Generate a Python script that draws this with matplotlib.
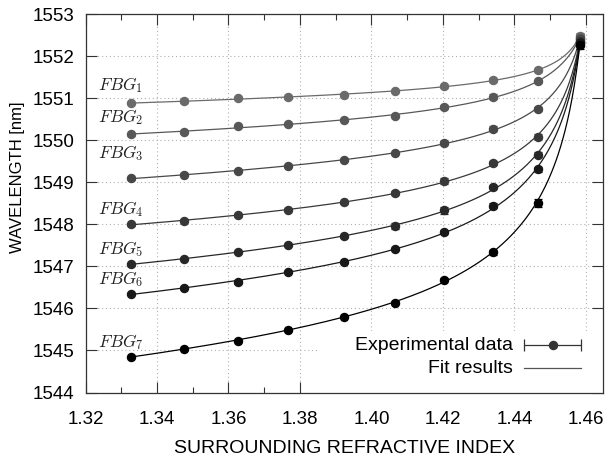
"""Bragg wavelength of seven FBGs versus surrounding refractive index."""

import numpy as np
import matplotlib
matplotlib.use("Agg")
import matplotlib.pyplot as plt

plt.rcParams["font.family"] = ["Liberation Sans", "DejaVu Sans"]
plt.rcParams["mathtext.fontset"] = "cm"

# measured surrounding refractive index
sri = [1.3326, 1.3476, 1.3626, 1.3767, 1.3924, 1.4066, 1.4204, 1.4341, 1.4465, 1.4583]

# Bragg wavelengths [nm]
fbg1 = [1550.88, 1550.92, 1551.00, 1551.02, 1551.08, 1551.17, 1551.28, 1551.43, 1551.66, 1552.48]
fbg2 = [1550.14, 1550.19, 1550.34, 1550.38, 1550.48, 1550.58, 1550.79, 1551.03, 1551.40, 1552.44]
fbg3 = [1549.09, 1549.18, 1549.27, 1549.39, 1549.53, 1549.70, 1549.93, 1550.27, 1550.75, 1552.41]
fbg4 = [1548.00, 1548.09, 1548.21, 1548.35, 1548.52, 1548.74, 1549.03, 1549.46, 1550.08, 1552.37]
fbg5 = [1547.05, 1547.18, 1547.34, 1547.51, 1547.71, 1547.96, 1548.33, 1548.88, 1549.65, 1552.34]
fbg6 = [1546.34, 1546.49, 1546.63, 1546.86, 1547.10, 1547.41, 1547.82, 1548.44, 1549.31, 1552.30]
fbg7 = [1544.85, 1545.04, 1545.23, 1545.49, 1545.80, 1546.14, 1546.68, 1547.34, 1548.51, 1552.26]

# measurement uncertainty [nm]
err1 = [0.03, 0.03, 0.03, 0.03, 0.03, 0.03, 0.03, 0.04, 0.04, 0.08]
err2 = [0.03, 0.03, 0.03, 0.03, 0.03, 0.03, 0.04, 0.06, 0.04, 0.08]
err3 = [0.03, 0.03, 0.03, 0.03, 0.03, 0.03, 0.04, 0.06, 0.05, 0.08]
err4 = [0.03, 0.03, 0.03, 0.03, 0.03, 0.04, 0.08, 0.05, 0.06, 0.08]
err5 = [0.03, 0.03, 0.03, 0.03, 0.03, 0.08, 0.08, 0.05, 0.06, 0.08]
err6 = [0.03, 0.03, 0.05, 0.03, 0.03, 0.03, 0.04, 0.06, 0.06, 0.08]
err7 = [0.03, 0.03, 0.03, 0.03, 0.03, 0.03, 0.04, 0.06, 0.10, 0.08]

labels = ["$FBG_1$", "$FBG_2$", "$FBG_3$", "$FBG_4$", "$FBG_5$", "$FBG_6$", "$FBG_7$"]
label_y = [1551.31, 1550.56, 1549.69, 1548.37, 1547.41, 1546.70, 1545.21]

series = [fbg1, fbg2, fbg3, fbg4, fbg5, fbg6, fbg7]
errors = [err1, err2, err3, err4, err5, err6, err7]
colors = ["#6a6a6a", "#585858", "#484848", "#383838", "#282828", "#181818", "#000000"]


def fit_curve(x, y, e):
    """Least-squares fit of y = a + c*n + b / sqrt(nc^2 - n^2)."""
    w = 1.0 / e
    best = None
    for nc in np.linspace(x[-1] + 2e-4, 1.62, 2500):
        basis = np.column_stack([np.ones_like(x), x, 1.0 / np.sqrt(nc**2 - x**2)])
        coef = np.linalg.lstsq(basis * w[:, None], y * w, rcond=None)[0]
        r = np.sum(((basis @ coef - y) * w) ** 2)
        if best is None or r < best[0]:
            best = (r, nc, coef)
    _, nc, coef = best
    xx = np.linspace(x[0], x[-1], 400)
    yy = coef[0] + coef[1] * xx + coef[2] / np.sqrt(nc**2 - xx**2)
    return xx, yy


fig = plt.figure(figsize=(6.06, 4.66), dpi=100)
ax = fig.add_axes([0.1411, 0.1577, 0.854, 0.8122])

x = np.array(sri)
for y, e, c, lab, ly in zip(series, errors, colors, labels, label_y):
    y = np.array(y)
    e = np.array(e)
    xx, yy = fit_curve(x, y, e)
    ax.plot(xx, yy, color=c, lw=0.9, zorder=3)
    ax.errorbar(x, y, yerr=e, fmt="o", ms=5.8, color=c, ecolor=c,
                elinewidth=0.9, capsize=2.6, capthick=0.9, zorder=4)
    ax.text(1.3236, ly, lab, fontsize=12.5, color="#222222", ha="left", va="center", zorder=5)

ax.set_xlim(1.32, 1.4648)
ax.set_ylim(1544, 1553)
ax.set_xticks(np.arange(1.32, 1.461, 0.02))
ax.set_xticks(np.arange(1.33, 1.46, 0.02), minor=True)
ax.set_yticks(np.arange(1544, 1554, 1))
ax.set_xticklabels([f"{v:.2f}" for v in np.arange(1.32, 1.461, 0.02)])

ax.grid(True, which="major", color="#b0b0b0", linestyle=(0, (1, 2.5)), linewidth=0.8)
ax.set_axisbelow(True)
ax.tick_params(which="both", direction="in", top=True, right=True, color="#333333",
               labelsize=13.5, width=0.8)
ax.tick_params(which="major", length=8, pad=8)
ax.tick_params(axis="x", which="major", pad=13)
ax.tick_params(which="minor", length=4.5)
for s in ax.spines.values():
    s.set_color("#333333")
    s.set_linewidth(0.9)

ax.set_xlabel("SURROUNDING REFRACTIVE INDEX", fontsize=14, labelpad=9)
ax.set_ylabel("WAVELENGTH [nm]", fontsize=12)
ax.yaxis.set_label_coords(-0.117, 0.568)

# key, drawn in the gnuplot style (opaque box over the grid)
tr = ax.transAxes
ax.add_patch(plt.Rectangle((0.453, 0.0), 0.547, 0.162, transform=tr,
                           facecolor="white", edgecolor="none", zorder=1.5))
ax.text(0.826, 0.125, "Experimental data", transform=tr, ha="right", va="center",
        fontsize=14, zorder=5)
ax.text(0.826, 0.064, "Fit results", transform=tr, ha="right", va="center",
        fontsize=14, zorder=5)
ax.errorbar([0.903], [0.125], xerr=[0.055], fmt="o", ms=5.8, color="#333333",
            elinewidth=0.9, capsize=4, capthick=0.9, transform=tr, zorder=5, clip_on=False)
ax.plot([0.848, 0.958], [0.064, 0.064], color="#555555", lw=0.9, transform=tr, zorder=5)

fig.savefig("out.png", dpi=100)
plt.close(fig)
